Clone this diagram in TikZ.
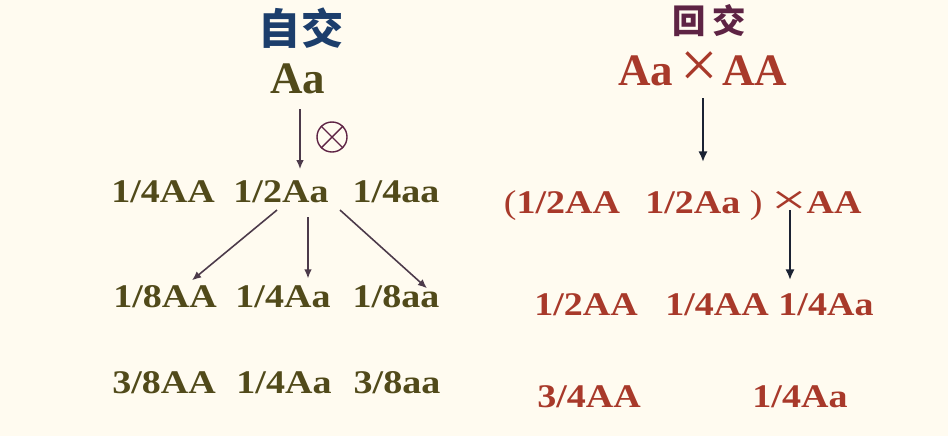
\documentclass[tikz,border=0pt]{standalone}
\usepackage{fontspec}
\setmainfont{Liberation Serif}
\newfontfamily\cjk{Noto Sans CJK SC}
\usepackage{graphicx}
\usetikzlibrary{arrows.meta, calc, positioning}
\definecolor{Paper}{HTML}{FFFBF0}
\definecolor{Olive}{HTML}{514A1A}
\definecolor{Brick}{HTML}{A8392A}
\definecolor{SelfBlue}{HTML}{1C3E6C}
\definecolor{BackPlum}{HTML}{5E2344}
\definecolor{ArrowPlum}{HTML}{4C3A4A}
\definecolor{ArrowNavy}{HTML}{1B2233}
\newcommand{\rowfont}{\fontsize{9.4}{11}\selectfont\bfseries}
\newcommand{\topfont}{\fontsize{12.8}{15}\selectfont\bfseries}
\newcommand{\wide}[1]{\scalebox{1.15}[1]{#1}}
\tikzset{
  selfrow/.style={text=Olive, font=\rowfont, inner sep=0pt, anchor=base},
  backrow/.style={text=Brick, font=\rowfont, inner sep=0pt, anchor=base},
  parent/.style={font=\topfont, inner sep=0pt, anchor=base},
  crossop/.style={text=Brick, inner sep=0pt},
  title/.style={inner sep=0pt},
  selfarrow/.style={-{Latex[length=2.6pt, width=2.2pt]}, line width=0.45pt, color=ArrowPlum},
  backarrow/.style={-{Latex[length=3pt, width=2.6pt]}, line width=0.8pt, color=ArrowNavy},
  selfmark/.style={circle, draw=BackPlum, line width=0.4pt, minimum size=0.3cm, inner sep=0pt},
}

\begin{document}
\begin{tikzpicture}[x=0.01cm, y=-0.01cm]
  \fill[Paper] (0,0) rectangle (948,436);
  \useasboundingbox (0,0) rectangle (948,436);

  % Selfing
  \node[title, text=SelfBlue, font=\cjk\bfseries\fontsize{12}{14}\selectfont] (selftitle) at (301,28) {自交};
  \node[parent, text=Olive] (selfpar) at (298,93) {Aa};
  \node[selfmark] (selfx) at (332,137) {};
  \draw[BackPlum, line width=0.4pt] (selfx.45) -- (selfx.225) (selfx.135) -- (selfx.315);

  \node[selfrow] (s1a) at (163,202) {\wide{1/4AA}};
  \node[selfrow] (s1b) at (281,202) {\wide{1/2Aa}};
  \node[selfrow] (s1c) at (396,202) {\wide{1/4aa}};

  \node[selfrow] (s2a) at (165,307) {\wide{1/8AA}};
  \node[selfrow] (s2b) at (283,307) {\wide{1/4Aa}};
  \node[selfrow] (s2c) at (396,307) {\wide{1/8aa}};

  \node[selfrow] (s3a) at (164,393) {\wide{3/8AA}};
  \node[selfrow] (s3b) at (284,393) {\wide{1/4Aa}};
  \node[selfrow] (s3c) at (397,393) {\wide{3/8aa}};

  \draw[selfarrow] ($(selfpar.south)+(2,15)$) -- ($(selfpar.south)+(2,75)$);
  \draw[selfarrow] ($(s1b.south)+(-4,7)$) -- ($(s2a.north)+(27,-4)$);
  \draw[selfarrow] ($(s1b.south)+(27,14)$) -- ($(s2b.north)+(25,-6)$);
  \draw[selfarrow] ($(s1b.south)+(59,7)$) -- ($(s2c.north)+(31,4)$);

  % Backcross
  \node[title, text=BackPlum, font=\cjk\bfseries\fontsize{9.5}{11}\selectfont] (backtitle) at (709,21) {回\hspace{2pt}交};
  \node[parent, text=Brick] (backAa) at (646,85) {Aa};
  \node[crossop, font=\fontsize{19}{19}\selectfont] (backx) at (699,70) {×};
  \node[parent, text=Brick] (backAA) at (755,85) {AA};

  \node[backrow] (r1a) at (562,213) {\wide{\textmd{(}1/2AA}};
  \node[backrow] (r1b) at (704,213) {\wide{1/2Aa \textmd{)}}};
  \node[crossop, font=\fontsize{18}{18}\selectfont] (r1x) at (789,203) {\scalebox{1}[0.68]{×}};
  \node[backrow] (r1c) at (834,213) {\wide{AA}};

  \node[backrow] (r2a) at (586,315) {\wide{1/2AA}};
  \node[backrow] (r2b) at (717,315) {\wide{1/4AA}};
  \node[backrow] (r2c) at (826,315) {\wide{1/4Aa}};

  \node[backrow] (r3a) at (589,407) {\wide{3/4AA}};
  \node[backrow] (r3b) at (800,407) {\wide{1/4Aa}};

  \draw[backarrow, line width=0.6pt] ($(backx)+(4,28)$) -- ($(backx)+(4,92)$);
  \draw[backarrow] ($(r1x)+(1,7)$) -- ($(r1x)+(1,77)$);
\end{tikzpicture}
\end{document}
